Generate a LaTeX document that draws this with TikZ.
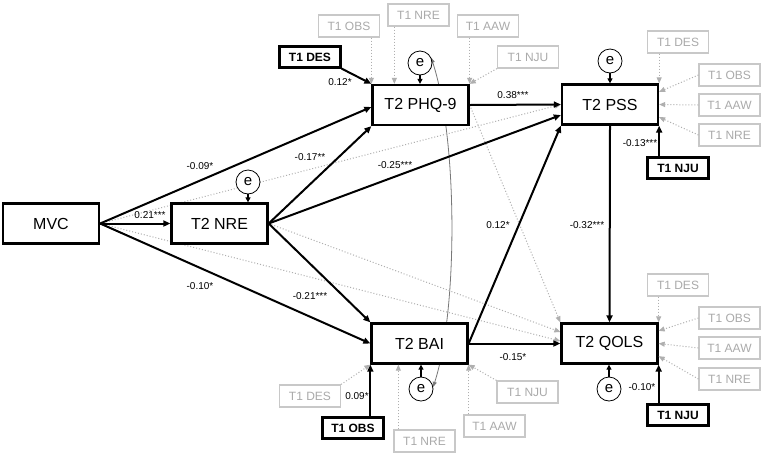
\documentclass[tikz,border=0pt]{standalone}
\usepackage{fontspec}
\setmainfont{Liberation Sans}
\usetikzlibrary{arrows.meta,calc,backgrounds}
\definecolor{covgray}{RGB}{200,200,200}
\definecolor{covtext}{RGB}{170,170,170}
\definecolor{dotgray}{RGB}{175,175,175}
\definecolor{curvegray}{RGB}{120,120,120}
\begin{document}
\begin{tikzpicture}[x=1pt,y=-1pt,
  mainbox/.style={draw, line width=2.3pt, minimum width=96pt, minimum height=40pt, inner sep=0pt, fill=white, font=\fontsize{16}{18}\selectfont},
  covbox/.style={draw=covgray, line width=1.2pt, text=covtext, minimum width=61pt, minimum height=22pt, inner sep=0pt, fill=white, font=\fontsize{12}{14}\selectfont},
  boldcov/.style={draw, line width=2.2pt, minimum width=61pt, minimum height=21pt, inner sep=0pt, fill=white, font=\bfseries\fontsize{12}{14}\selectfont},
  errc/.style={circle, draw, line width=0.8pt, minimum size=24pt, inner sep=0pt, fill=white, font=\fontsize{15}{16}\selectfont},
  sigarrow/.style={line width=2pt, -{Triangle[length=7pt,width=6pt]}},
  nsarrow/.style={draw=dotgray, line width=1pt, dash pattern=on 1pt off 2pt, -{Triangle[length=6pt,width=5pt,fill=dotgray]}},
  errarrow/.style={line width=1.2pt, -{Triangle[length=5pt,width=5pt]}},
  lab/.style={font=\fontsize{10}{12}\selectfont, inner sep=1pt}]
\useasboundingbox (0,0) rectangle (762,456);

% main variables
\node[mainbox] (mvc) at (51,223.5) {MVC};
\node[mainbox] (nre) at (219.5,223.5) {T2 NRE};
\node[mainbox] (phq) at (420.5,105) {T2 PHQ-9};
\node[mainbox] (pss) at (610,104.5) {T2 PSS};
\node[mainbox] (bai) at (419.5,343.5) {T2 BAI};
\node[mainbox] (qols) at (609.5,343.5) {T2 QOLS};

% error terms
\node[errc] (eN) at (248,182) {e};
\node[errc] (eP) at (420,63) {e};
\node[errc] (eS) at (610,61) {e};
\node[errc] (eB) at (421,389) {e};
\node[errc] (eQ) at (609,389) {e};

% covariates PHQ-9
\node[boldcov] (desP) at (310,57) {T1 DES};
\node[covbox] (obsP) at (349,26) {T1 OBS};
\node[covbox] (nreP) at (418.5,15) {T1 NRE};
\node[covbox] (aawP) at (488,26) {T1 AAW};
\node[covbox] (njuP) at (528,57) {T1 NJU};
% covariates PSS
\node[covbox] (desS) at (678,42) {T1 DES};
\node[covbox] (obsS) at (729.5,75) {T1 OBS};
\node[covbox] (aawS) at (729.5,105) {T1 AAW};
\node[covbox] (nreS) at (729.5,135) {T1 NRE};
\node[boldcov] (njuS) at (678,168) {T1 NJU};
% covariates QOLS
\node[covbox] (desQ) at (678,285) {T1 DES};
\node[covbox] (obsQ) at (729.5,318) {T1 OBS};
\node[covbox] (aawQ) at (729.5,348) {T1 AAW};
\node[covbox] (nreQ) at (729.5,379) {T1 NRE};
\node[boldcov] (njuQ) at (678,415) {T1 NJU};
% covariates BAI
\node[covbox] (desB) at (310,396) {T1 DES};
\node[boldcov] (obsB) at (353,428) {T1 OBS};
\node[covbox] (nreB) at (424.5,441) {T1 NRE};
\node[covbox] (aawB) at (494.5,426) {T1 AAW};
\node[covbox] (njuB) at (527.5,392) {T1 NJU};

\coordinate (pN) at ($(phq.north west)+(23,0)$);
\coordinate (bN) at ($(bai.south west)+(28,0)$);

\begin{scope}[on background layer]
  \fill[white] (0,0) rectangle (762,456);
  % correlated errors
  \draw[curvegray, line width=0.8pt, {Triangle[length=5pt,width=4pt]}-{Triangle[length=5pt,width=4pt]}]
    (eP.25) .. controls (458,140) and (458,310) .. (eB.10);
  % non-significant paths
  \draw[nsarrow] (mvc.east) -- (pss.west);
  \draw[nsarrow] (mvc.east) -- ($(qols.west)+(0,-2.5)$);
  \draw[nsarrow] (nre.east) -- ($(qols.west)+(0,-11.5)$);
  \draw[nsarrow] (phq.east) -- (qols.north west);
  % significant paths
  \draw[sigarrow] (mvc.east) -- (nre.west);
  \draw[sigarrow] (mvc.east) -- ($(phq.west)+(0,2)$);
  \draw[sigarrow] (mvc.east) -- (bai.west);
  \draw[sigarrow] (nre.east) -- (phq.south west);
  \draw[sigarrow] (nre.east) -- ($(pss.west)!0.5!(pss.south west)$);
  \draw[sigarrow] (nre.east) -- (bai.north west);
  \draw[sigarrow] (phq.east) -- (pss.west);
  \draw[sigarrow] (bai.east) -- (pss.south west);
  \draw[sigarrow] (bai.east) -- (qols.west);
  \draw[sigarrow] (pss.south) -- (qols.north);
\end{scope}

% covariate arrows PHQ-9
\draw[sigarrow] (desP.south east) -- (phq.north west);
\draw[nsarrow] (obsP.south -| phq.north west) -- (phq.north west);
\draw[nsarrow] (nreP.south -| pN) -- (pN);
\draw[nsarrow] (aawP.south -| phq.north east) -- (phq.north east);
\draw[nsarrow] (njuP.south west) -- (phq.north east);
% covariate arrows PSS
\draw[nsarrow] (desS.south -| pss.north east) -- (pss.north east);
\draw[nsarrow] (obsS.west) -- ($(pss.north east)!0.2!(pss.south east)$);
\draw[nsarrow] (aawS.west) -- (pss.east);
\draw[nsarrow] (nreS.west) -- ($(pss.north east)!0.8!(pss.south east)$);
\draw[sigarrow] (njuS.north -| pss.south east) -- (pss.south east);
% covariate arrows QOLS
\draw[nsarrow] (desQ.south -| qols.north east) -- (qols.north east);
\draw[nsarrow] (obsQ.west) -- ($(qols.north east)!0.2!(qols.south east)$);
\draw[nsarrow] (aawQ.west) -- (qols.east);
\draw[nsarrow] (nreQ.west) -- ($(qols.north east)!0.8!(qols.south east)$);
\draw[sigarrow] (njuQ.north -| qols.south east) -- (qols.south east);
% covariate arrows BAI
\draw[nsarrow] (desB.north east) -- (bai.south west);
\draw[sigarrow] (obsB.north -| bai.south west) -- (bai.south west);
\draw[nsarrow] (nreB.north -| bN) -- (bN);
\draw[nsarrow] (aawB.north -| bai.south east) -- (bai.south east);
\draw[nsarrow] (njuB.north west) -- (bai.south east);

% error arrows
\draw[errarrow] (eN.south) -- (eN.south |- nre.north);
\draw[errarrow] (eP.south) -- (eP.south |- phq.north);
\draw[errarrow] (eS.south) -- (eS.south |- pss.north);
\draw[errarrow] (eB.north) -- (eB.north |- bai.south);
\draw[errarrow] (eQ.north) -- (eQ.north |- qols.south);

% coefficient labels
\node[lab] (l1) at (150,215) {0.21***};
\node[lab] (l2) at (200,166) {-0.09*};
\node[lab] (l3) at (200,286) {-0.10*};
\node[lab] (l4) at (310,157) {-0.17**};
\node[lab] (l5) at (395,165) {-0.25***};
\node[lab] (l6) at (310,296) {-0.21***};
\node[lab] (l7) at (513,95) {0.38***};
\node[lab] (l8) at (498,225) {0.12*};
\node[lab] (l9) at (513,357) {-0.15*};
\node[lab] (l10) at (587,225) {-0.32***};
\node[lab] (l11) at (340,82) {0.12*};
\node[lab] (l12) at (640,143) {-0.13***};
\node[lab] (l13) at (642,387) {-0.10*};
\node[lab] (l14) at (357,396) {0.09*};
\end{tikzpicture}
\end{document}
